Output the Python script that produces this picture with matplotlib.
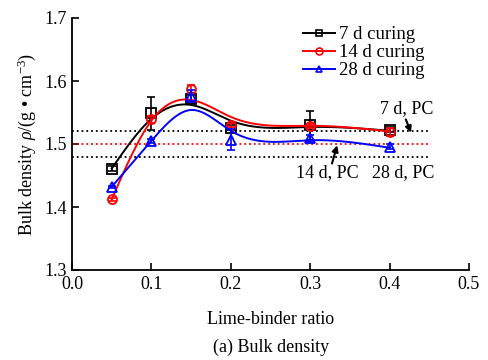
import numpy as np
import matplotlib
matplotlib.use('Agg')
import matplotlib.pyplot as plt

plt.rcParams['font.family'] = ['Liberation Serif', 'DejaVu Serif']
plt.rcParams['mathtext.fontset'] = 'custom'
plt.rcParams['mathtext.rm'] = 'Liberation Serif'
plt.rcParams['mathtext.it'] = 'Liberation Serif:italic'

# lime-binder ratio
ratio = [0.05, 0.1, 0.15, 0.2, 0.3, 0.4]

# measured bulk density (g/cm3) and error bars
rho_7d = [1.461, 1.549, 1.571, 1.526, 1.530, 1.523]
err_7d = [0.004, 0.026, 0.006, 0.004, 0.023, 0.004]
rho_14d = [1.412, 1.539, 1.587, 1.530, 1.528, 1.519]
err_14d = [0.003, 0.005, 0.006, 0.003, 0.003, 0.007]
rho_28d = [1.432, 1.505, 1.576, 1.507, 1.509, 1.496]
err_28d = [0.002, 0.003, 0.010, 0.017, 0.006, 0.004]

# fitted curves (values at the same ratios)
fit_7d = [1.461, 1.540, 1.562, 1.537, 1.527, 1.521]
fit_14d = [1.412, 1.537, 1.570, 1.543, 1.529, 1.520]
fit_28d = [1.432, 1.505, 1.554, 1.521, 1.506, 1.494]

# plain cement reference levels
pc_7d = 1.52
pc_14d = 1.50
pc_28d = 1.48


def natural_spline(xk, yk, xs):
    xk, yk = np.asarray(xk), np.asarray(yk)
    n = len(xk)
    h = np.diff(xk)
    A = np.zeros((n, n))
    b = np.zeros(n)
    A[0, 0] = A[-1, -1] = 1
    for i in range(1, n - 1):
        A[i, i - 1] = h[i - 1]
        A[i, i] = 2 * (h[i - 1] + h[i])
        A[i, i + 1] = h[i]
        b[i] = 3 * ((yk[i + 1] - yk[i]) / h[i] - (yk[i] - yk[i - 1]) / h[i - 1])
    c = np.linalg.solve(A, b)
    bb = (yk[1:] - yk[:-1]) / h - h * (2 * c[:-1] + c[1:]) / 3
    d = (c[1:] - c[:-1]) / (3 * h)
    idx = np.clip(np.searchsorted(xk, xs) - 1, 0, n - 2)
    dx = xs - xk[idx]
    return yk[idx] + bb[idx] * dx + c[idx] * dx ** 2 + d[idx] * dx ** 3


fig = plt.figure(figsize=(4.88, 3.6), dpi=100)
ax = fig.add_axes([0.1475, 0.25, 0.8135, 0.70])

fs = 13
xs = np.linspace(ratio[0], ratio[-1], 300)

# PC reference lines
ax.plot([0, 0.45], [pc_7d, pc_7d], ':', color='k', lw=1.3)
ax.plot([0, 0.45], [pc_14d, pc_14d], ':', color='r', lw=1.3)
ax.plot([0, 0.45], [pc_28d, pc_28d], ':', color='k', lw=1.3)

series = [
    (rho_7d, err_7d, fit_7d, 'k', 's', '7 d curing'),
    (rho_14d, err_14d, fit_14d, 'r', 'o', '14 d curing'),
    (rho_28d, err_28d, fit_28d, 'b', '^', '28 d curing'),
]
handles = []
for rho, err, fit, c, m, lab in series:
    ax.plot(xs, natural_spline(ratio, fit, xs), color=c, lw=1.4)
    ax.errorbar(ratio, rho, yerr=err, fmt='none', ecolor=c, elinewidth=1.2, capsize=3, capthick=1.2)
    ax.plot(ratio, rho, ls='none', marker=m, ms=6.5, mfc='none', mec=c, mew=1.3)
    h, = ax.plot([], [], color=c, lw=1.4, marker=m, ms=5, mfc='none', mec=c, mew=1.2, label=lab)
    handles.append(h)

leg = ax.legend(handles=handles, loc='upper left', bbox_to_anchor=(0.55, 1.02), frameon=False,
                fontsize=13.5, handlelength=1.7, handletextpad=0.2, labelspacing=0.05, borderpad=0.2)

# annotations
arrow = dict(arrowstyle='-|>', color='k', lw=1.5, mutation_scale=9, shrinkA=0, shrinkB=0)
ax.annotate('', xy=(0.427, 1.518), xytext=(0.4205, 1.539), arrowprops=arrow)
ax.text(0.455, 1.542, '7 d, PC', fontsize=fs, ha='right', va='bottom')
ax.annotate('', xy=(0.334, 1.498), xytext=(0.3275, 1.469), arrowprops=arrow)
ax.text(0.282, 1.455, '14 d, PC', fontsize=fs, ha='left', va='center')
ax.text(0.378, 1.455, '28 d, PC', fontsize=fs, ha='left', va='center')

ax.set_xlim(0, 0.5)
ax.set_ylim(1.3, 1.7)
ax.set_xticks(np.arange(0, 0.51, 0.1))
ax.set_yticks(np.arange(1.3, 1.71, 0.1))
ax.xaxis.set_major_formatter(matplotlib.ticker.FormatStrFormatter('%.1f'))
ax.yaxis.set_major_formatter(matplotlib.ticker.FormatStrFormatter('%.1f'))
ax.tick_params(direction='in', labelsize=fs, width=1.2, length=5, pad=4)
ax.spines['top'].set_visible(False)
ax.spines['right'].set_visible(False)
ax.spines['left'].set_linewidth(1.3)
ax.spines['bottom'].set_linewidth(1.3)

ax.set_xlabel('Lime-binder ratio', fontsize=fs, labelpad=13)
ax.set_ylabel(r'Bulk density $\rho$/(g • cm$^{-3}$)', fontsize=fs, labelpad=4)
fig.text(0.555, 0.035, '(a) Bulk density', fontsize=fs, ha='center', va='center')

fig.savefig('out.png', dpi=100)
